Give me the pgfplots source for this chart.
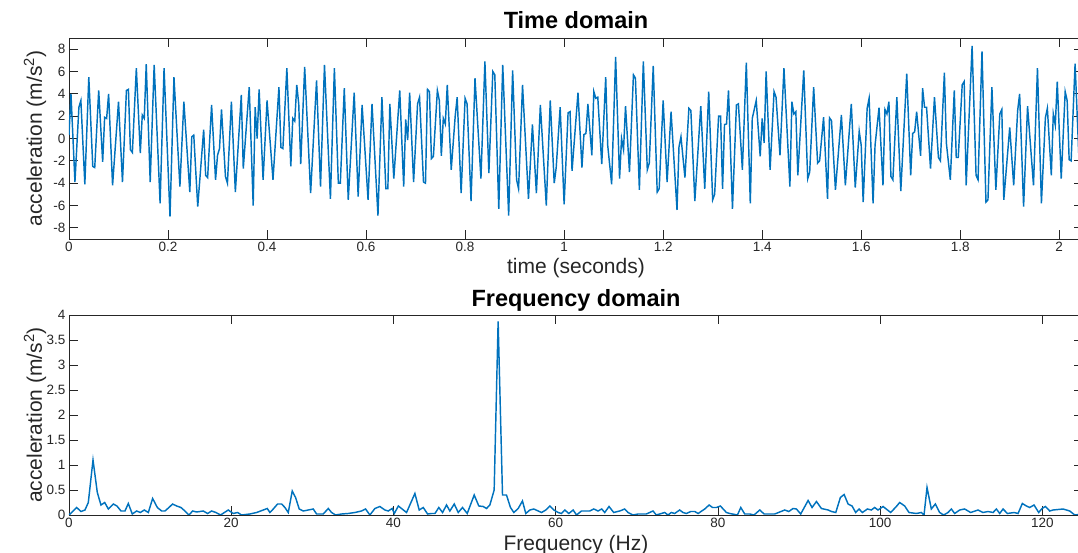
\documentclass[border=0pt]{standalone}
\usepackage{fontspec}
\setmainfont{Liberation Sans}
\usepackage{pgfplots}
\pgfplotsset{compat=1.18}
\definecolor{mblue}{RGB}{0,114,189}
\definecolor{axgray}{RGB}{38,38,38}
\pgfplotsset{mystyle/.style={
  scale only axis, width=1014pt,
  axis line style={axgray, line width=0.9pt},
  every tick/.style={axgray, line width=0.9pt},
  major tick length=9pt,
  tick align=inside,
  tick label style={font=\fontsize{13.5}{15}\selectfont, text=axgray},
  /pgf/number format/assume math mode=true,
  label style={font=\fontsize{21}{24}\selectfont, text=axgray},
  title style={font=\fontsize{23.5}{26}\selectfont\bfseries, anchor=center, yshift=0pt},
  ylabel style={at={(axis description cs:-0.0335,0.5)}, anchor=center},
}}
\begin{document}
\begin{tikzpicture}
\useasboundingbox (-69pt,-38pt) rectangle (1009pt,515pt);
% Time domain
\begin{axis}[mystyle, at={(0pt,276pt)}, anchor=south west, height=201pt,
  xmin=0, xmax=2.048, ymin=-9, ymax=9,
  xtick={0,0.2,...,2.01}, ytick={-8,-6,...,8},
  title={Time domain}, title style={at={(axis description cs:0.5,1.06)}},
  xlabel={time (seconds)}, xlabel style={at={(axis description cs:0.5,-0.143)}, anchor=center},
  ylabel={acceleration (m/s\textsuperscript{2})}]
\addplot[mblue, line width=1.45pt] coordinates {
(0.000,0.3) (0.004,4.0) (0.012,-3.9) (0.020,2.8) (0.024,3.4) (0.032,-4.1) (0.040,5.5) (0.048,-2.5) (0.052,-2.6) (0.060,4.3)
(0.068,-2.1) (0.072,1.9) (0.076,1.8) (0.080,4.0) (0.088,-4.2) (0.100,3.3) (0.108,-3.9) (0.116,4.3) (0.120,4.4) (0.124,-1.0)
(0.128,-1.25) (0.136,6.3) (0.144,-1.3) (0.148,2.1) (0.152,1.8) (0.156,6.65) (0.164,-3.9) (0.172,6.6) (0.184,-5.8) (0.192,6.3)
(0.204,-7.0) (0.212,5.5) (0.224,-4.3) (0.232,3.3) (0.244,-4.8) (0.248,0.15) (0.252,0.3) (0.260,-6.1) (0.272,0.8) (0.276,-3.3)
(0.280,-3.5) (0.288,3.0) (0.296,-3.7) (0.300,-1.5) (0.304,-0.9) (0.308,2.6) (0.316,-3.4) (0.320,-4.0) (0.328,3.3) (0.336,-4.8)
(0.348,3.9) (0.352,-2.7) (0.364,4.6) (0.372,-6.0) (0.376,2.8) (0.380,0.0) (0.384,4.4) (0.392,-3.7) (0.400,3.4) (0.412,-3.7)
(0.424,4.6) (0.428,-0.8) (0.432,-0.9) (0.440,6.3) (0.448,-2.5) (0.452,1.8) (0.456,1.55) (0.460,4.8) (0.464,3.1) (0.468,-2.3)
(0.476,6.4) (0.488,-4.9) (0.500,5.2) (0.508,-4.3) (0.516,6.6) (0.528,-5.4) (0.536,6.3) (0.544,-4.0) (0.548,-4.0) (0.556,4.5)
(0.564,-5.5) (0.576,4.1) (0.584,-5.2) (0.592,3.0) (0.604,-5.5) (0.612,3.1) (0.624,-6.9) (0.632,3.7) (0.640,-4.5) (0.644,-4.5)
(0.648,3.1) (0.656,-3.6) (0.668,4.3) (0.676,-4.3) (0.680,1.7) (0.684,-0.15) (0.688,4.1) (0.696,-3.9) (0.704,3.1) (0.708,3.7)
(0.716,-3.9) (0.720,-4.0) (0.724,4.4) (0.728,4.2) (0.732,-1.8) (0.736,-1.6) (0.744,4.3) (0.748,3.4) (0.752,-1.55) (0.756,1.8)
(0.760,1.3) (0.764,4.8) (0.772,-2.8) (0.780,2.0) (0.784,3.7) (0.792,-4.9) (0.800,3.6) (0.804,3.1) (0.812,-5.6) (0.820,5.4)
(0.832,-3.6) (0.840,6.9) (0.848,-3.1) (0.856,6.0) (0.860,5.7) (0.868,-6.3) (0.876,6.6) (0.888,-6.9) (0.896,6.1) (0.904,-3.7)
(0.908,-4.5) (0.916,4.8) (0.928,-5.4) (0.936,1.25) (0.944,-4.9) (0.952,3.0) (0.964,-6.0) (0.972,3.4) (0.980,-4.0) (0.984,-2.6)
(0.992,2.8) (1.000,-5.9) (1.008,2.3) (1.012,2.4) (1.016,-2.9) (1.028,4.1) (1.036,-2.6) (1.040,0.35) (1.044,0.45) (1.048,3.1)
(1.056,-1.5) (1.060,4.2) (1.064,3.6) (1.068,3.7) (1.076,-2.3) (1.084,5.5) (1.088,-0.6) (1.096,-4.1) (1.104,7.3) (1.112,-3.6)
(1.116,0.0) (1.120,-1.0) (1.124,2.9) (1.132,-3.0) (1.140,5.7) (1.144,5.4) (1.152,-4.6) (1.160,6.9) (1.168,-2.8) (1.172,-2.2)
(1.180,6.5) (1.188,-4.8) (1.192,-4.5) (1.200,3.4) (1.208,-3.9) (1.216,2.4) (1.228,-6.4) (1.232,-0.75) (1.236,0.15) (1.244,-3.5)
(1.252,2.7) (1.256,2.5) (1.264,-5.6) (1.276,2.9) (1.284,-4.5) (1.292,4.2) (1.300,-5.5) (1.304,-5.0) (1.312,2.0) (1.316,2.0)
(1.320,-4.5) (1.324,1.25) (1.328,1.3) (1.332,4.3) (1.340,-6.3) (1.348,3.0) (1.352,3.1) (1.360,-2.8) (1.368,6.8) (1.376,-5.8)
(1.380,1.8) (1.388,3.4) (1.396,-1.6) (1.400,1.8) (1.404,-0.4) (1.408,6.0) (1.416,-2.8) (1.424,4.2) (1.428,3.7) (1.436,-1.5)
(1.444,6.3) (1.456,-4.3) (1.460,3.3) (1.464,2.2) (1.468,2.4) (1.472,-3.3) (1.484,6.1) (1.492,-3.6) (1.496,-3.0) (1.504,4.6)
(1.512,-2.2) (1.516,-2.0) (1.524,1.9) (1.532,-5.4) (1.536,1.85) (1.540,1.6) (1.548,-4.6) (1.560,2.1) (1.568,-4.2) (1.580,3.1)
(1.588,-4.4) (1.596,0.65) (1.600,-0.6) (1.604,-5.7) (1.612,2.7) (1.616,3.6) (1.624,-5.8) (1.628,-0.6) (1.636,2.75) (1.644,-4.2)
(1.648,2.6) (1.652,2.2) (1.656,3.3) (1.660,-3.4) (1.664,-3.7) (1.672,3.7) (1.680,-4.7) (1.692,5.8) (1.700,-3.3) (1.704,0.45)
(1.708,0.6) (1.712,2.4) (1.720,-1.55) (1.724,4.5) (1.728,2.8) (1.732,2.8) (1.740,-2.7) (1.748,3.7) (1.756,-1.7) (1.760,-2.0)
(1.768,5.9) (1.772,-0.4) (1.780,-3.7) (1.788,4.3) (1.792,-1.7) (1.796,-1.7) (1.804,4.8) (1.808,5.1) (1.812,-4.2) (1.824,8.3)
(1.832,-3.3) (1.836,-3.7) (1.844,7.8) (1.852,-5.7) (1.856,-5.5) (1.864,4.6) (1.872,-4.6) (1.880,2.2) (1.884,2.6) (1.888,-5.5)
(1.900,1.0) (1.908,-4.2) (1.916,2.5) (1.920,4.0) (1.928,-6.1) (1.936,2.9) (1.948,-4.2) (1.956,6.3) (1.964,-5.8) (1.972,1.85)
(1.976,2.7) (1.984,-3.3) (1.988,2.2) (1.992,1.2) (1.996,5.1) (2.004,-3.6) (2.012,4.2) (2.016,3.4) (2.020,-1.9) (2.024,-2.0)
(2.032,6.7) (2.040,-2.0) (2.044,1.0)
};
\end{axis}
% Frequency domain
\begin{axis}[mystyle, at={(0pt,0pt)}, anchor=south west, height=200pt,
  xmin=0, xmax=125, ymin=0, ymax=4,
  xtick={0,20,...,120}, ytick={0,0.5,...,4},
  title={Frequency domain}, title style={at={(axis description cs:0.5,1.045)}},
  xlabel={Frequency (Hz)}, xlabel style={at={(axis description cs:0.5,-0.15)}, anchor=center},
  ylabel={acceleration (m/s\textsuperscript{2})}]
\addplot[mblue, line width=1.45pt] coordinates {
(0,0.0) (0.94,0.15) (1.48,0.07) (1.97,0.10) (2.38,0.25) (2.96,1.10) (3.49,0.45) (3.94,0.20) (4.40,0.25) (4.85,0.12)
(5.46,0.22) (5.91,0.18) (6.41,0.08) (6.90,0.08) (7.31,0.23) (7.80,0.02) (8.34,0.08) (8.79,0.05) (9.28,0.10) (9.78,0.05)
(10.31,0.33) (10.89,0.15) (11.42,0.08) (11.83,0.08) (12.32,0.15) (12.77,0.22) (13.27,0.18) (13.80,0.15) (14.29,0.08) (14.79,0.00)
(15.24,0.08) (15.73,0.06) (16.55,0.08) (17.09,0.03) (17.58,0.08) (18.11,0.05) (18.69,0.00) (19.63,0.10) (20.25,0.03) (20.78,0.05)
(21.28,0.00) (22.30,0.02) (23.13,0.05) (23.95,0.10) (24.44,0.13) (24.77,0.05) (25.18,0.12) (25.71,0.22) (26.21,0.22) (26.62,0.15)
(27.03,0.05) (27.52,0.48) (27.93,0.35) (28.38,0.12) (28.88,0.08) (29.49,0.10) (30.11,0.12) (30.52,0.02) (31.34,0.02) (31.96,0.13)
(32.37,0.05) (32.86,0.00) (33.60,0.02) (34.42,0.03) (35.24,0.05) (36.06,0.08) (36.56,0.12) (37.09,0.00) (37.71,0.13) (38.32,0.17)
(38.94,0.10) (39.35,0.08) (39.84,0.13) (40.10,0.03) (40.60,0.18) (41.61,0.05) (42.64,0.43) (43.17,0.10) (43.67,0.15) (44.20,0.02)
(44.69,0.03) (45.11,0.03) (45.59,0.15) (46.05,0.05) (46.54,0.20) (46.95,0.08) (47.49,0.22) (47.98,0.05) (48.51,0.15) (49.09,0.03)
(49.95,0.40) (50.52,0.18) (51.06,0.17) (51.47,0.13) (51.88,0.20) (52.41,0.50) (52.90,3.87) (53.44,0.40) (53.93,0.40) (54.42,0.15)
(54.84,0.05) (55.37,0.13) (55.90,0.28) (56.31,0.03) (56.81,0.10) (57.30,0.12) (58.25,0.05) (58.78,0.10) (59.27,0.18) (59.77,0.10)
(60.30,0.05) (60.71,0.03) (61.12,0.10) (61.61,0.03) (62.15,0.10) (62.56,0.00) (63.18,0.08) (64.20,0.08) (64.70,0.12) (65.21,0.08)
(65.67,0.12) (66.04,0.05) (66.57,0.17) (67.15,0.05) (67.89,0.08) (68.50,0.12) (68.91,0.05) (69.53,0.00) (70.14,0.02) (71.17,0.02)
(71.99,0.08) (72.40,0.00) (73.02,0.03) (73.43,0.05) (73.84,0.00) (74.25,0.05) (74.66,0.03) (75.28,0.10) (75.69,0.05) (76.10,0.03)
(76.65,0.07) (77.14,0.07) (77.55,0.03) (78.37,0.12) (78.91,0.20) (79.32,0.15) (79.81,0.15) (80.30,0.18) (81.04,0.05) (81.45,0.03)
(82.40,0.00) (82.81,0.15) (83.30,0.02) (83.92,0.02) (84.45,0.00) (85.15,0.10) (85.69,0.02) (86.18,0.02) (87.00,0.02) (88.23,0.10)
(88.73,0.07) (89.26,0.13) (89.67,0.12) (90.20,0.02) (91.11,0.29) (91.60,0.15) (92.14,0.27) (92.75,0.13) (93.58,0.10) (93.99,0.07)
(94.52,0.05) (95.09,0.35) (95.55,0.41) (96.04,0.22) (96.53,0.18) (96.98,0.05) (97.39,0.12) (97.80,0.05) (98.42,0.12) (98.91,0.10)
(99.32,0.15) (99.73,0.10) (100.35,0.17) (101.29,0.05) (101.99,0.17) (102.40,0.25) (103.02,0.18) (103.55,0.05) (104.46,0.03) (105.07,0.05)
(105.40,0.00) (105.77,0.55) (106.30,0.12) (106.80,0.22) (107.33,0.05) (107.82,0.00) (108.36,0.05) (108.77,0.12) (109.18,0.03) (109.80,0.10)
(110.41,0.12) (111.15,0.05) (112.06,0.10) (112.67,0.05) (113.29,0.07) (113.91,0.05) (114.32,0.12) (114.73,0.03) (115.14,0.12) (115.68,0.03)
(116.50,0.05) (116.99,0.03) (117.52,0.23) (118.02,0.18) (118.43,0.15) (118.96,0.20) (119.54,0.05) (119.95,0.13) (120.36,0.17) (120.90,0.08)
(121.31,0.10) (122.54,0.12) (123.36,0.08) (123.98,0.00) (125,0.02)
};
\end{axis}
\end{tikzpicture}
\end{document}
